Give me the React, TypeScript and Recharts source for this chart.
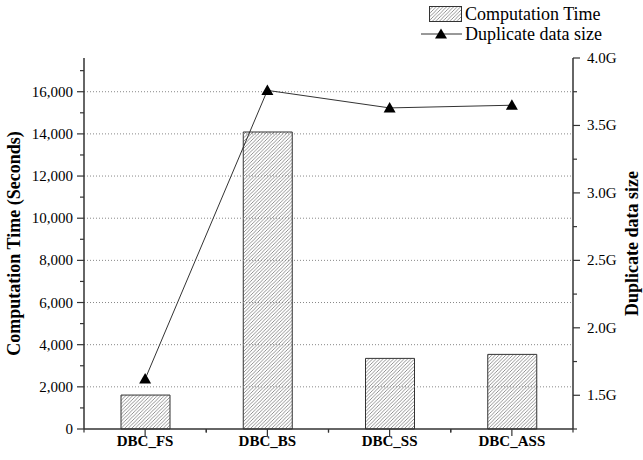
import React from "react";
import { ComposedChart, Bar, Line, XAxis, YAxis, ReferenceLine, Legend } from "recharts";

// data
const categories = ["DBC_FS", "DBC_BS", "DBC_SS", "DBC_ASS"];
const computationTime = [1610, 14090, 3350, 3540];
const duplicateSize = [1.62, 3.76, 3.63, 3.65];
const leftTicks = [0, 1000, 2000, 3000, 4000, 5000, 6000, 7000, 8000, 9000, 10000, 11000, 12000, 13000, 14000, 15000, 16000, 17000];
const gridValues = [2000, 4000, 6000, 8000, 10000, 12000, 14000, 16000];
const rightTicks = [1.25, 1.5, 1.75, 2.0, 2.25, 2.5, 2.75, 3.0, 3.25, 3.5, 3.75, 4.0];

const data = categories.map((name, i) => ({
  name,
  time: computationTime[i],
  size: duplicateSize[i],
}));

const FONT = "'Liberation Serif', 'Times New Roman', serif";
const AXIS = "#333";
const W = 643;
const H = 460;
const LEFT_W = 84;
const RIGHT_W = 70;
const BAND = (W - LEFT_W - RIGHT_W) / categories.length;

const LeftTick = ({ x, y, payload }: any) => {
  const major = payload.value % 2000 === 0;
  return (
    <g>
      <line x1={x} x2={x - (major ? 7 : 4)} y1={y} y2={y} stroke={AXIS} strokeWidth={1.2} />
      {major && (
        <text x={x - 11} y={y} dy={5} textAnchor="end" fontFamily={FONT} fontSize={15} fill="#000">
          {payload.value.toLocaleString("en-US")}
        </text>
      )}
    </g>
  );
};

const RightTick = ({ x, y, payload }: any) => {
  const major = Math.round(payload.value * 100) % 50 === 0;
  return (
    <g>
      <line x1={x} x2={x + (major ? 7 : 4)} y1={y} y2={y} stroke={AXIS} strokeWidth={1.2} />
      {major && (
        <text x={x + 14} y={y} dy={5} textAnchor="start" fontFamily={FONT} fontSize={15} fill="#000">
          {payload.value.toFixed(1) + "G"}
        </text>
      )}
    </g>
  );
};

const BottomTick = ({ x, y, payload }: any) => (
  <g>
    <line x1={x} x2={x} y1={y} y2={y + 7} stroke={AXIS} strokeWidth={1.2} />
    <line x1={x - BAND / 2} x2={x - BAND / 2} y1={y} y2={y + 3.5} stroke={AXIS} strokeWidth={1.2} />
    <line x1={x + BAND / 2} x2={x + BAND / 2} y1={y} y2={y + 3.5} stroke={AXIS} strokeWidth={1.2} />
    <text x={x} y={y + 17} textAnchor="middle" fontFamily={FONT} fontSize={15} fontWeight="bold" fill="#000">
      {payload.value}
    </text>
  </g>
);

const Triangle = ({ cx, cy }: any) => {
  if (cx == null || cy == null) return null;
  return <polygon points={`${cx},${cy - 6} ${cx - 6},${cy + 4.5} ${cx + 6},${cy + 4.5}`} fill="#000" />;
};

const LeftTitle = ({ viewBox }: any) => {
  const cx = viewBox.x + 14;
  const cy = viewBox.y + viewBox.height / 2;
  return (
    <text x={cx} y={cy} transform={`rotate(-90, ${cx}, ${cy})`} textAnchor="middle" dominantBaseline="central"
      fontFamily={FONT} fontSize={18} fontWeight="bold" fill="#000">
      Computation Time (Seconds)
    </text>
  );
};

const RightTitle = ({ viewBox }: any) => {
  const cx = viewBox.x + 59;
  const cy = viewBox.y + viewBox.height / 2;
  return (
    <text x={cx} y={cy} transform={`rotate(-90, ${cx}, ${cy})`} textAnchor="middle" dominantBaseline="central"
      fontFamily={FONT} fontSize={18} fontWeight="bold" fill="#000">
      Duplicate data size
    </text>
  );
};

const LegendBox = () => (
  <div style={{ fontFamily: FONT, fontSize: 18, color: "#000", lineHeight: "20px" }}>
    <div style={{ display: "flex", alignItems: "center" }}>
      <svg width={46} height={20}>
        <defs>
          <pattern id="hatchLegend" patternUnits="userSpaceOnUse" width={3.5} height={3.5}>
            <path d="M-1,1 l2,-2 M0,3.5 l3.5,-3.5 M2.5,4.5 l2,-2" stroke="#666" strokeWidth={0.7} />
          </pattern>
        </defs>
        <rect x={11.5} y={2.5} width={32} height={15} fill="url(#hatchLegend)" stroke={AXIS} />
      </svg>
      <span style={{ marginLeft: 1 }}>Computation Time</span>
    </div>
    <div style={{ display: "flex", alignItems: "center" }}>
      <svg width={46} height={20}>
        <line x1={3} x2={44} y1={10} y2={10} stroke={AXIS} strokeWidth={1} />
        <polygon points="23,4.5 17,14.5 29,14.5" fill="#000" />
      </svg>
      <span style={{ marginLeft: 1 }}>Duplicate data size</span>
    </div>
  </div>
);

export default function App() {
  return (
    <div style={{ position: "absolute", left: 0, top: 0, width: W, height: H, background: "#fff" }}>
      <ComposedChart width={W} height={H} data={data} margin={{ top: 58, right: 0, bottom: 0, left: 0 }}>
        <defs>
          <pattern id="hatch" patternUnits="userSpaceOnUse" width={3.5} height={3.5}>
            <rect width={3.5} height={3.5} fill="#fff" />
            <path d="M-1,1 l2,-2 M0,3.5 l3.5,-3.5 M2.5,4.5 l2,-2" stroke="#666" strokeWidth={0.7} />
          </pattern>
        </defs>
        <XAxis
          dataKey="name"
          height={31}
          interval={0}
          tickSize={0}
          tickMargin={0}
          tickLine={false}
          tick={<BottomTick />}
          axisLine={{ stroke: AXIS, strokeWidth: 1.5 }}
        />
        <YAxis
          yAxisId="left"
          width={LEFT_W}
          domain={[0, 17600]}
          ticks={leftTicks}
          interval={0}
          tickSize={0}
          tickMargin={0}
          tickLine={false}
          tick={<LeftTick />}
          axisLine={{ stroke: AXIS, strokeWidth: 1.5 }}
          label={<LeftTitle />}
        />
        <YAxis
          yAxisId="right"
          orientation="right"
          width={RIGHT_W}
          domain={[1.25, 4.0]}
          ticks={rightTicks}
          interval={0}
          tickSize={0}
          tickMargin={0}
          tickLine={false}
          tick={<RightTick />}
          axisLine={{ stroke: AXIS, strokeWidth: 1.5 }}
          label={<RightTitle />}
        />
        <Legend
          layout="vertical"
          align="center"
          verticalAlign="middle"
          wrapperStyle={{ top: 4, left: 418, width: "auto" }}
          content={() => <LegendBox />}
        />
        <Bar
          yAxisId="left"
          dataKey="time"
          name="Computation Time"
          barSize={49}
          fill="url(#hatch)"
          stroke={AXIS}
          strokeWidth={1}
          isAnimationActive={false}
        />
        {gridValues.map((v) => (
          <ReferenceLine key={v} yAxisId="left" y={v} stroke="#888" strokeDasharray="1 2" strokeWidth={1} ifOverflow="visible" />
        ))}
        <Line
          yAxisId="right"
          dataKey="size"
          name="Duplicate data size"
          type="linear"
          stroke={AXIS}
          strokeWidth={1}
          dot={<Triangle />}
          activeDot={false}
          isAnimationActive={false}
        />
      </ComposedChart>
    </div>
  );
}
